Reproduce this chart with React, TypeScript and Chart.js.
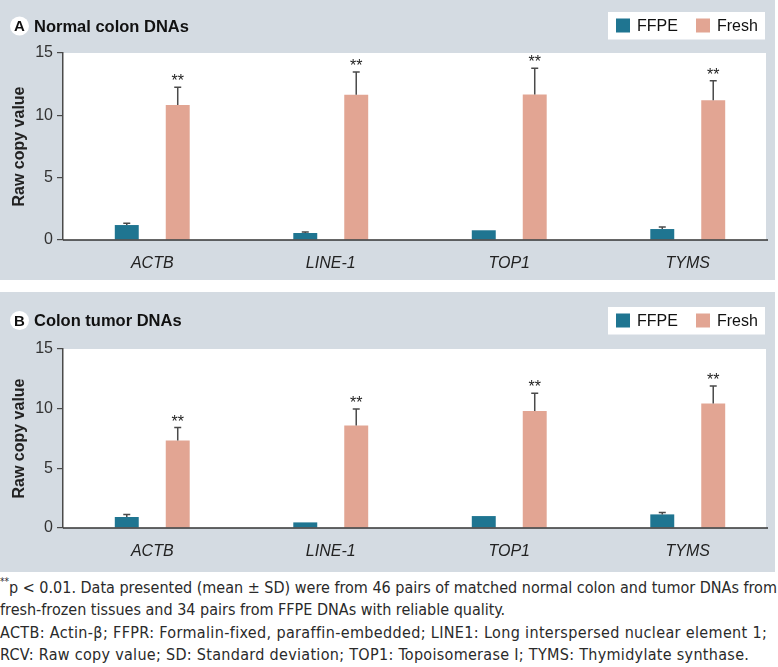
import React, { useEffect, useRef } from 'react';
import { Chart, registerables } from 'chart.js';

Chart.register(...registerables);

const categories = ['ACTB', 'LINE-1', 'TOP1', 'TYMS'];
const seriesNames = ['FFPE', 'Fresh'];
const normalFFPE = [1.2, 0.56, 0.78, 0.88];
const normalFFPESD = [0.14, 0.08, 0, 0.16];
const normalFresh = [10.83, 11.65, 11.68, 11.2];
const normalFreshSD = [1.42, 1.82, 2.09, 1.58];
const tumorFFPE = [0.92, 0.47, 1.0, 1.14];
const tumorFFPESD = [0.22, 0, 0, 0.16];
const tumorFresh = [7.33, 8.58, 9.8, 10.44];
const tumorFreshSD = [1.09, 1.39, 1.5, 1.46];
const significance = ['**', '**', '**', '**'];
const yTicks = [0, 5, 10, 15];
const yTitle = 'Raw copy value';

const footnoteLines = [
  'p < 0.01. Data presented (mean ± SD) were from 46 pairs of matched normal colon and tumor DNAs from',
  'fresh-frozen tissues and 34 pairs from FFPE DNAs with reliable quality.',
  'ACTB: Actin-β; FFPR: Formalin-fixed, paraffin-embedded; LINE1: Long interspersed nuclear element 1;',
  'RCV: Raw copy value; SD: Standard deviation; TOP1: Topoisomerase I; TYMS: Thymidylate synthase.',
];
const footnoteSpacing = [0, 0, 0.35, 0.3];

const COLORS = ['#1f7591', '#e2a593'];
const PANEL_BG = '#d4dbe2';
const FONT = '"Liberation Sans", Arial, sans-serif';

type PanelProps = {
  letter: string;
  title: string;
  ffpe: number[];
  ffpeSD: number[];
  fresh: number[];
  freshSD: number[];
  titleY: number;
  legendTop: number;
  topPad: number;
  axisY: number;
};

const H = 280;
const W = 778;

function Panel(p: PanelProps) {
  const ref = useRef<HTMLCanvasElement | null>(null);
  useEffect(() => {
    if (!ref.current) return;
    const sds = [p.ffpeSD, p.freshSD];
    const decor = {
      id: 'decor',
      beforeDraw(chart: any) {
        const { ctx, chartArea } = chart;
        ctx.save();
        ctx.fillStyle = PANEL_BG;
        ctx.fillRect(0, 0, chart.width - 3, chart.height);
        ctx.fillStyle = '#ffffff';
        ctx.fillRect(chartArea.left, chartArea.top, chartArea.right - 11 - chartArea.left, chartArea.bottom - chartArea.top);
        ctx.restore();
      },
      afterDatasetsDraw(chart: any) {
        const { ctx, chartArea } = chart;
        const y = chart.scales.y;
        ctx.save();
        chart.data.datasets.forEach((ds: any, di: number) => {
          const meta = chart.getDatasetMeta(di);
          meta.data.forEach((bar: any, i: number) => {
            const v = ds.data[i];
            const sd = sds[di][i];
            const top = y.getPixelForValue(v + sd);
            if (sd > 0) {
              ctx.strokeStyle = '#4a4a4a';
              ctx.lineWidth = 1.5;
              ctx.beginPath();
              ctx.moveTo(bar.x, y.getPixelForValue(v));
              ctx.lineTo(bar.x, top);
              ctx.moveTo(bar.x - 3.5, top);
              ctx.lineTo(bar.x + 3.5, top);
              ctx.stroke();
            }
            if (di === 1) {
              ctx.fillStyle = '#222';
              ctx.font = `16px ${FONT}`;
              ctx.textAlign = 'center';
              ctx.textBaseline = 'alphabetic';
              ctx.fillText(significance[i], bar.x, top - 1);
            }
          });
        });
        ctx.strokeStyle = '#333';
        ctx.lineWidth = 1.5;
        ctx.beginPath();
        ctx.moveTo(chartArea.left, chartArea.bottom);
        ctx.lineTo(chartArea.right - 9, chartArea.bottom);
        ctx.stroke();
        ctx.restore();
      },
      afterDraw(chart: any) {
        const { ctx } = chart;
        ctx.save();
        ctx.fillStyle = '#ffffff';
        ctx.beginPath();
        ctx.arc(19.5, p.titleY, 9.5, 0, Math.PI * 2);
        ctx.fill();
        ctx.fillStyle = '#111';
        ctx.font = `bold 15px ${FONT}`;
        ctx.textAlign = 'center';
        ctx.textBaseline = 'middle';
        ctx.fillText(p.letter, 19.5, p.titleY + 1);
        ctx.font = `bold 16.5px ${FONT}`;
        ctx.textAlign = 'left';
        ctx.fillText(p.title, 34, p.titleY + 1);
        const lt = p.legendTop;
        ctx.fillStyle = '#ffffff';
        ctx.fillRect(608, lt, 157, 27.5);
        const xs = [616, 696];
        chart.data.datasets.forEach((ds: any, di: number) => {
          ctx.fillStyle = ds.backgroundColor;
          ctx.fillRect(xs[di], lt + 6.5, 14, 14);
          ctx.fillStyle = '#111';
          ctx.font = `16px ${FONT}`;
          ctx.textBaseline = 'middle';
          ctx.fillText(ds.label, xs[di] + 21, lt + 14.5);
        });
        ctx.restore();
      },
    };
    const chart = new Chart(ref.current, {
      type: 'bar',
      data: {
        labels: categories,
        datasets: [
          { label: seriesNames[0], data: p.ffpe, backgroundColor: COLORS[0] },
          { label: seriesNames[1], data: p.fresh, backgroundColor: COLORS[1] },
        ],
      },
      options: {
        responsive: false,
        animation: false,
        devicePixelRatio: 1,
        layout: { padding: { top: p.topPad, right: 1, left: 0, bottom: 0 } },
        datasets: { bar: { categoryPercentage: 0.571, barPercentage: 0.47 } },
        plugins: { legend: { display: false }, tooltip: { enabled: false } },
        scales: {
          x: {
            grid: { display: false, drawTicks: false },
            border: { display: false },
            ticks: { color: '#222', font: { family: FONT, size: 16, style: 'italic' }, padding: 14 },
            afterFit: (s: any) => { s.height = H - p.axisY; },
          },
          y: {
            min: 0,
            max: 15,
            afterBuildTicks: (s: any) => { s.ticks = yTicks.map((v) => ({ value: v })); },
            grid: { drawOnChartArea: false, color: '#4a4a4a', tickLength: 6, lineWidth: 1.2 },
            border: { display: true, color: '#4a4a4a', width: 1.5 },
            ticks: { color: '#333', font: { family: FONT, size: 16 }, padding: 4 },
            title: { display: true, text: yTitle, color: '#222', font: { family: FONT, size: 16, weight: 'bold' }, padding: { top: 10, bottom: 0 } },
            afterFit: (s: any) => { s.width = 63; },
          },
        },
      },
      plugins: [decor],
    });
    return () => chart.destroy();
  }, []);
  return <canvas ref={ref} width={W} height={H} style={{ display: 'block', width: W, height: H }} />;
}

export default function App() {
  return (
    <div style={{ position: 'absolute', left: 0, top: 0, width: W, height: 667, background: '#fff' }}>
      <Panel letter="A" title="Normal colon DNAs" ffpe={normalFFPE} ffpeSD={normalFFPESD} fresh={normalFresh} freshSD={normalFreshSD} titleY={26} legendTop={12} topPad={53} axisY={240} />
      <div style={{ height: 12 }} />
      <Panel letter="B" title="Colon tumor DNAs" ffpe={tumorFFPE} ffpeSD={tumorFFPESD} fresh={tumorFresh} freshSD={tumorFreshSD} titleY={28.5} legendTop={15} topPad={57} axisY={236} />
      <div style={{ position: 'absolute', top: 577, left: 0, width: W, fontFamily: '"Liberation Sans Narrow", "DejaVu Sans Condensed", sans-serif', fontSize: 16, lineHeight: '22.4px', color: '#2a2a2a', whiteSpace: 'nowrap' }}>
        {footnoteLines.map((t, i) => (
          <div key={i} style={{ letterSpacing: `${footnoteSpacing[i]}px` }}>
            {i === 0 ? <span style={{ fontSize: 10, verticalAlign: 'top', lineHeight: '10px' }}>**</span> : null}
            {t}
          </div>
        ))}
      </div>
    </div>
  );
}
